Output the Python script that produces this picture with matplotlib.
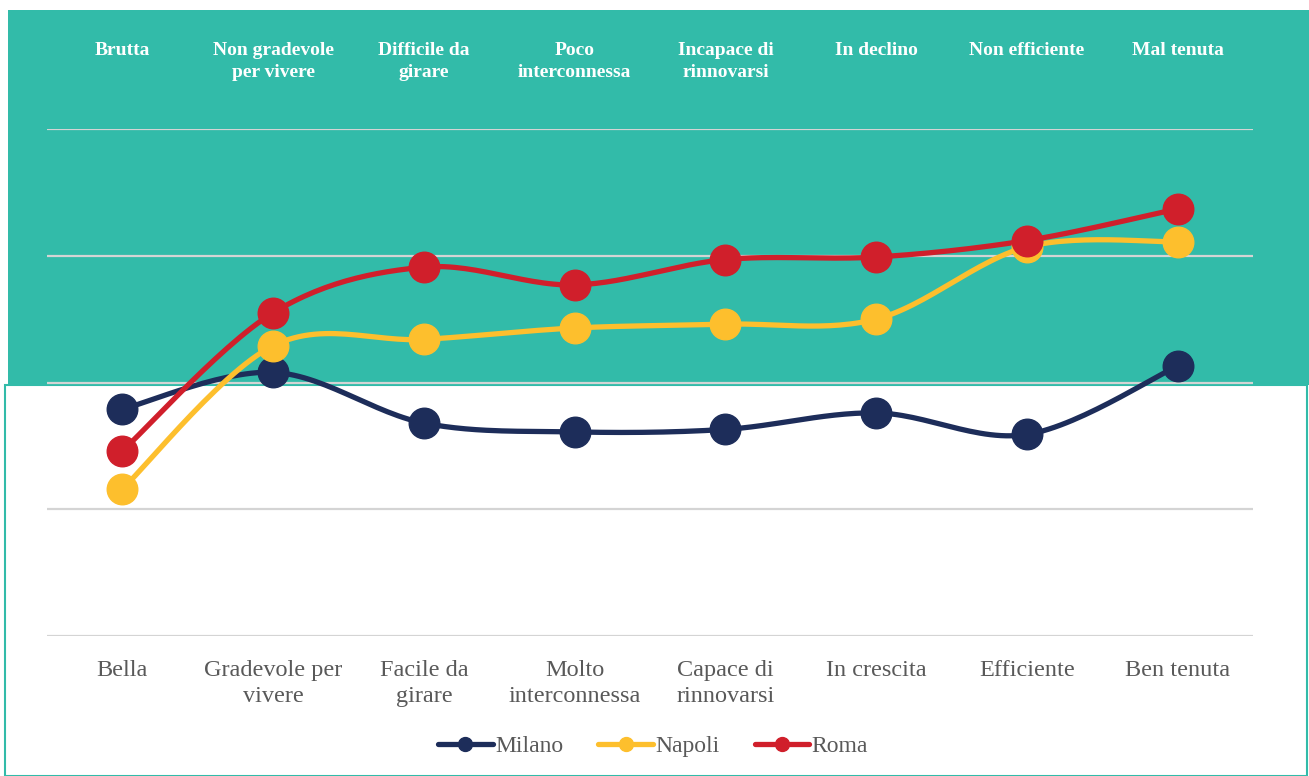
import numpy as np
import matplotlib
matplotlib.use('Agg')
import matplotlib.pyplot as plt
from matplotlib.patches import Rectangle
from matplotlib.lines import Line2D

# Dati
positivi = ['Bella', 'Gradevole per\nvivere', 'Facile da\ngirare', 'Molto\ninterconnessa',
            'Capace di\nrinnovarsi', 'In crescita', 'Efficiente', 'Ben tenuta']
negativi = ['Brutta', 'Non gradevole\nper vivere', 'Difficile da\ngirare', 'Poco\ninterconnessa',
            'Incapace di\nrinnovarsi', 'In declino', 'Non efficiente', 'Mal tenuta']
milano = [2.79, 3.08, 2.68, 2.61, 2.63, 2.76, 2.59, 3.13]
napoli = [2.16, 3.29, 3.34, 3.43, 3.46, 3.50, 4.07, 4.11]
roma = [2.46, 3.55, 3.91, 3.77, 3.97, 3.99, 4.12, 4.37]

serie = [('Milano', milano, '#1d2d5a'), ('Napoli', napoli, '#fdbf2d'), ('Roma', roma, '#d01f2b')]
TEAL = '#32bba9'


def smooth(y, n=30):
    """Curva Catmull-Rom come la linea smussata di Excel"""
    y = np.asarray(y, dtype=float)
    x = np.arange(len(y), dtype=float)
    px = np.concatenate([[x[0]], x, [x[-1]]])
    py = np.concatenate([[y[0]], y, [y[-1]]])
    xs, ys = [], []
    t = np.linspace(0, 1, n)
    for i in range(1, len(px) - 2):
        p0x, p1x, p2x, p3x = px[i - 1], px[i], px[i + 1], px[i + 2]
        p0y, p1y, p2y, p3y = py[i - 1], py[i], py[i + 1], py[i + 2]
        c1x = p1x + (p2x - p0x) / 6
        c1y = p1y + (p2y - p0y) / 6
        c2x = p2x - (p3x - p1x) / 6
        c2y = p2y - (p3y - p1y) / 6
        bx = (1 - t) ** 3 * p1x + 3 * (1 - t) ** 2 * t * c1x + 3 * (1 - t) * t ** 2 * c2x + t ** 3 * p2x
        by = (1 - t) ** 3 * p1y + 3 * (1 - t) ** 2 * t * c1y + 3 * (1 - t) * t ** 2 * c2y + t ** 3 * p2y
        xs.append(bx)
        ys.append(by)
    return np.concatenate(xs), np.concatenate(ys)


plt.rcParams['font.family'] = ['Liberation Serif', 'DejaVu Serif']

W, H = 1309, 776
fig = plt.figure(figsize=(W / 100, H / 100), dpi=100)
fig.patch.set_facecolor('white')

# Sfondo: banda verde acqua in alto, riquadro bianco con bordo sotto
fig.patches.append(Rectangle((8 / W, 1 - 385 / H), (W - 8) / W, 375 / H, transform=fig.transFigure,
                             facecolor=TEAL, edgecolor='none', zorder=0))
fig.patches.append(Rectangle((5 / W, 0), 1302 / W, 1 - 385 / H, transform=fig.transFigure,
                             facecolor='white', edgecolor=TEAL, lw=1.5, zorder=1))

ax = fig.add_axes([47 / W, 1 - 636 / H, 1206 / W, 507 / H])
ax.set_zorder(5)
ax.patch.set_visible(False)
ax.set_xlim(-0.5, 7.5)
ax.set_ylim(1, 5)
for s in ax.spines.values():
    s.set_visible(False)
ax.set_yticks([1, 2, 3, 4, 5])
ax.set_yticklabels([])
ax.grid(axis='y', color='#d4d4d4', lw=1.6)
ax.tick_params(length=0)
ax.set_axisbelow(True)

x = np.arange(len(positivi))
ax.set_xticks(x)
ax.set_xticklabels(positivi, fontsize=17.5, color='#595959', linespacing=1.35)
ax.tick_params(axis='x', pad=17)

for nome, vals, col in serie:
    sx, sy = smooth(vals)
    ax.plot(sx, sy, color=col, lw=3.8, solid_capstyle='round', zorder=3)
    ax.plot(x, vals, 'o', color=col, ms=22, zorder=4)

# Etichette negative in alto
for i, lab in enumerate(negativi):
    ax.text(i, 1.0 + (636 - 42) / 126.75, lab, ha='center', va='top', fontsize=14,
            fontweight='bold', color='white', linespacing=1.4)

handles = [Line2D([0], [0], color=c, lw=3.8, marker='o', ms=10, solid_capstyle='round') for _, _, c in serie]
leg = fig.legend(handles, [n for n, _, _ in serie], loc='center', bbox_to_anchor=(653 / W, 1 - 746 / H),
                 ncol=3, frameon=False, fontsize=17, handlelength=2.3, handletextpad=0.1, columnspacing=1.5)
for t in leg.get_texts():
    t.set_color('#595959')

plt.savefig('out.png', dpi=100)
